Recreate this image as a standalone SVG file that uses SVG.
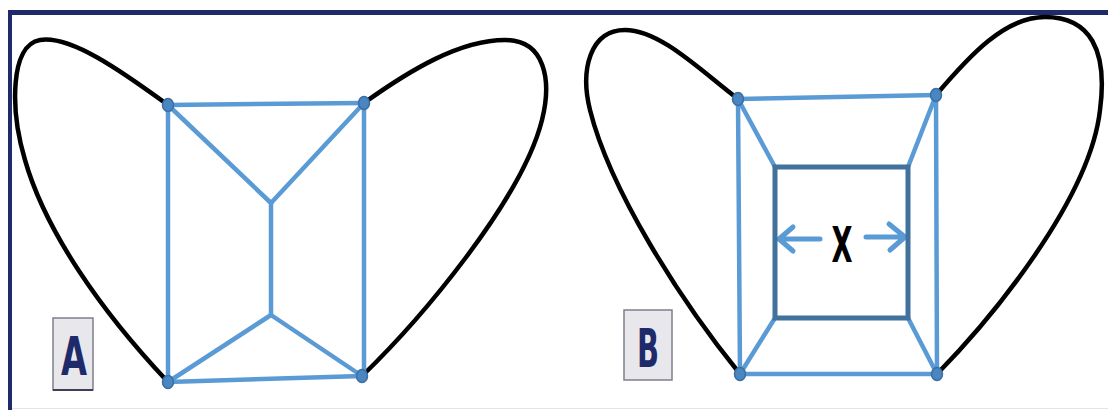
<svg xmlns="http://www.w3.org/2000/svg" width="1108" height="410" viewBox="0 0 1108 410">
<defs>
<style>
.lobe{fill:none;stroke:#000;stroke-width:4.5;stroke-linecap:round}
.edge{fill:none;stroke:#5b9bd5;stroke-width:4.5;stroke-linecap:round}
.inner{fill:none;stroke:#41719c;stroke-width:5}
.node{fill:#4a86c0;stroke:#3a6fa5;stroke-width:1.5}
.lbox{fill:#e8e8ec;stroke:#7d7f8e;stroke-width:1.5}
.ltxt{font-family:"DejaVu Sans","Liberation Sans",sans-serif;font-weight:bold;fill:#1f2a6b;text-anchor:middle}
.arrow{fill:none;stroke:#5b9bd5;stroke-width:5;stroke-linecap:round;stroke-linejoin:round}
</style>
</defs>
<rect x="0" y="0" width="1108" height="410" fill="#fff"/>
<!-- frame -->
<rect x="8" y="10" width="1100" height="5" fill="#1f2a6b"/>
<rect x="8" y="10" width="4" height="400" fill="#1f2a6b"/>
<line x1="12" y1="408.5" x2="1108" y2="408.5" stroke="#e4e4e4" stroke-width="1"/>

<g id="lobes">
<path class="lobe" d="M168,105 C120,70 70,35 40,40 C10,45 10,110 25,160 C45,230 100,310 168,382"/>
<path class="lobe" d="M364,103 C410,70 460,40 505,40 C545,40 552,80 542,120 C522,200 420,320 362,376"/>
<path class="lobe" d="M738,99 C700,70 660,30 625,30 C590,30 580,70 590,110 C610,190 680,300 740,374"/>
<path class="lobe" d="M936,95 C970,55 1005,17 1045,17 C1090,17 1108,50 1100,110 C1090,200 990,320 937,374"/>
</g>

<g id="connectors">
<!-- Panel A -->
<line class="edge" x1="168" y1="105" x2="364" y2="103"/>
<line class="edge" x1="168" y1="105" x2="168" y2="382"/>
<line class="edge" x1="364" y1="103" x2="364" y2="376"/>
<line class="edge" x1="168" y1="382" x2="362" y2="376"/>
<line class="edge" x1="168" y1="105" x2="271" y2="203"/>
<line class="edge" x1="364" y1="103" x2="271" y2="203"/>
<line class="edge" x1="271" y1="203" x2="271" y2="315"/>
<line class="edge" x1="271" y1="315" x2="168" y2="382"/>
<line class="edge" x1="271" y1="315" x2="362" y2="376"/>
<!-- Panel B -->
<line class="edge" x1="738" y1="99" x2="936" y2="95"/>
<line class="edge" x1="738" y1="99" x2="740" y2="374"/>
<line class="edge" x1="936" y1="95" x2="937" y2="374"/>
<line class="edge" x1="740" y1="374" x2="937" y2="374"/>
<line class="edge" x1="738" y1="99" x2="775" y2="167"/>
<line class="edge" x1="936" y1="95" x2="908" y2="167"/>
<line class="edge" x1="740" y1="374" x2="775" y2="318"/>
<line class="edge" x1="937" y1="374" x2="908" y2="318"/>
<!-- dimension arrows -->
<path class="arrow" d="M820,239 L779,239 M793,227 L779,239 L793,251"/>
<path class="arrow" d="M866,237 L905,237 M889,224 L905,237 L890,250"/>
</g>

<g id="innerSquare">
<rect class="inner" x="775" y="167" width="133" height="151"/>
</g>

<g id="nodesA">
<ellipse class="node" cx="168" cy="105" rx="5.5" ry="6.5"/>
<ellipse class="node" cx="364" cy="103" rx="5.5" ry="6.5"/>
<ellipse class="node" cx="168" cy="382" rx="5.5" ry="6.5"/>
<ellipse class="node" cx="362" cy="376" rx="5.5" ry="6.5"/>
</g>
<g id="nodesB">
<ellipse class="node" cx="738" cy="99" rx="5.5" ry="6.5"/>
<ellipse class="node" cx="936" cy="95" rx="5.5" ry="6.5"/>
<ellipse class="node" cx="740" cy="374" rx="5.5" ry="6.5"/>
<ellipse class="node" cx="937" cy="374" rx="5.5" ry="6.5"/>
</g>

<g id="labelA">
<rect class="lbox" x="53" y="318" width="40" height="72"/>
<line x1="53" y1="390" x2="93" y2="390" stroke="#3c3f55" stroke-width="2"/>
<text class="ltxt" x="74" y="375" font-size="54" textLength="26" lengthAdjust="spacingAndGlyphs">A</text>
</g>
<g id="labelB">
<rect class="lbox" x="624" y="310" width="48" height="70"/>
<text class="ltxt" x="648" y="367" font-size="53" textLength="22" lengthAdjust="spacingAndGlyphs">B</text>
</g>
<g id="labelX">
<text x="842" y="262" font-family="DejaVu Sans,Liberation Sans,sans-serif" font-weight="bold" font-size="49" fill="#000" text-anchor="middle" textLength="21" lengthAdjust="spacingAndGlyphs">X</text>
</g>
</svg>
